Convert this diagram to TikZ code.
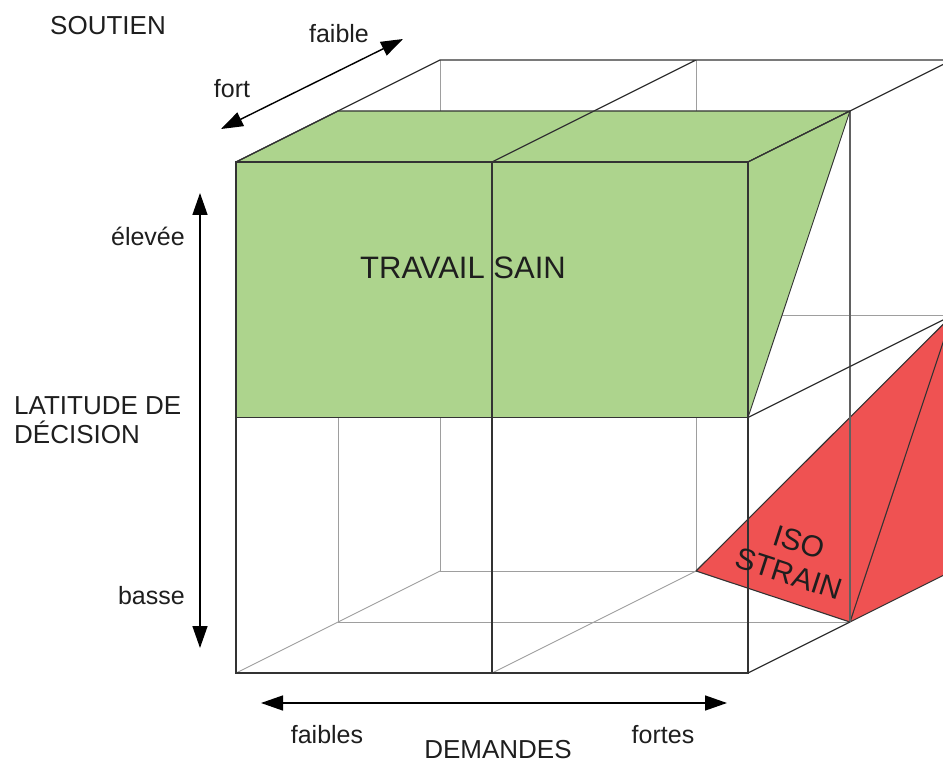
\documentclass[tikz,border=0pt]{standalone}
\usepackage{fontspec}
\setmainfont{Liberation Sans}
\usetikzlibrary{arrows.meta}
\definecolor{greenfill}{RGB}{173,212,141}
\definecolor{redfill}{RGB}{239,82,82}
\definecolor{txt}{RGB}{30,30,30}
\begin{document}
\begin{tikzpicture}[x=1pt,y=-1pt,
  light/.style={draw=black!38,line width=0.9pt},
  midline/.style={draw=black!62,line width=1.1pt},
  dark/.style={draw=black!80,line width=1.3pt},
  axis/.style={draw=black,line width=1.4pt,{Triangle[length=22pt,width=15pt]}-{Triangle[length=22pt,width=15pt]}},
  lbl/.style={text=txt,font=\fontsize{25}{30}\selectfont,inner sep=0pt},
  big/.style={text=txt,font=\fontsize{31}{33}\selectfont,inner sep=0pt,align=center},
  greenface/.style={fill=greenfill,draw=black!80,line width=1.2pt,line join=round},
  redface/.style={fill=redfill}]
\useasboundingbox (0,0) rectangle (943,759);
\clip (0,0) rectangle (943,759);
\foreach \i in {0,1,2}{\foreach \j in {0,1,2}{\foreach \k in {0,1,2}{
  \coordinate (p\i\j\k) at ({236+256*\i+102*\k},{673-255.5*\j-51*\k});}}}
% back plane
\draw[light] (p002)--(p022) (p102)--(p122) (p202)--(p222)
             (p002)--(p202) (p012)--(p212);
% middle plane
\draw[light] (p001)--(p021) (p001)--(p201);
% bottom depth edges
\draw[light] (p000)--(p002) (p100)--(p102);
% red wedge
\fill[redface] (p102)--(p201)--(p212)--cycle;
\fill[redface] (p201)--(p202)--(p212)--cycle;
\draw[dark,line width=1.1pt,line join=round] (p102)--(p201)--(p212)--cycle (p201)--(p202)--(p212);
\draw[midline] (p201)--(p221);
\draw[dark] (p200)--(p201);
% green block
\filldraw[greenface] (p010) rectangle (p220);
\filldraw[greenface] (p020)--(p021)--(p221)--(p220)--cycle;
\filldraw[greenface,line width=0.9pt] (p220)--(p221)--(p210)--cycle;
% front lines
\draw[dark] (p000) rectangle (p220) (p100)--(p120) (p010)--(p210);
\draw[dark] (p020)--(p022) (p120)--(p122) (p220)--(p222) (p022)--(p222);
\draw[dark] (p210)--(p212);
% axes
\coordinate (vt) at (200,193); \coordinate (vb) at (200,648);
\coordinate (hl) at (261,703); \coordinate (hr) at (727,703);
\coordinate (dl) at (221,129); \coordinate (dr) at (403,39);
\draw[axis] (vt)--(vb);
\draw[axis] (hl)--(hr);
\draw[axis] (dl)--(dr);
% labels
\node[lbl,font=\fontsize{26}{30}\selectfont] (soutien) at (108,26) {SOUTIEN};
\node[lbl,anchor=base] (faible) at (339,43) {faible};
\node[lbl,anchor=base] (fort) at (232,98) {fort};
\node[lbl,anchor=base east] (elevee) at (185,246) {élevée};
\node[lbl,anchor=base west,font=\fontsize{26}{30}\selectfont] (lat1) at (14,414) {LATITUDE DE};
\node[lbl,anchor=base west,font=\fontsize{26}{30}\selectfont] (lat2) at (14,443) {DÉCISION};
\node[lbl,anchor=base east] (basse) at (185,604) {basse};
\node[lbl,anchor=base] (faibles) at (327,743) {faibles};
\node[lbl,anchor=base] (fortes) at (663,743) {fortes};
\node[lbl,anchor=base,font=\fontsize{26}{30}\selectfont] (demandes) at (498,758) {DEMANDES};
\node[big] (sain) at (463,268) {TRAVAIL SAIN};
\node[big,font=\fontsize{30}{33}\selectfont,rotate=-18] (iso) at (794,558) {ISO\\STRAIN};
\end{tikzpicture}
\end{document}
